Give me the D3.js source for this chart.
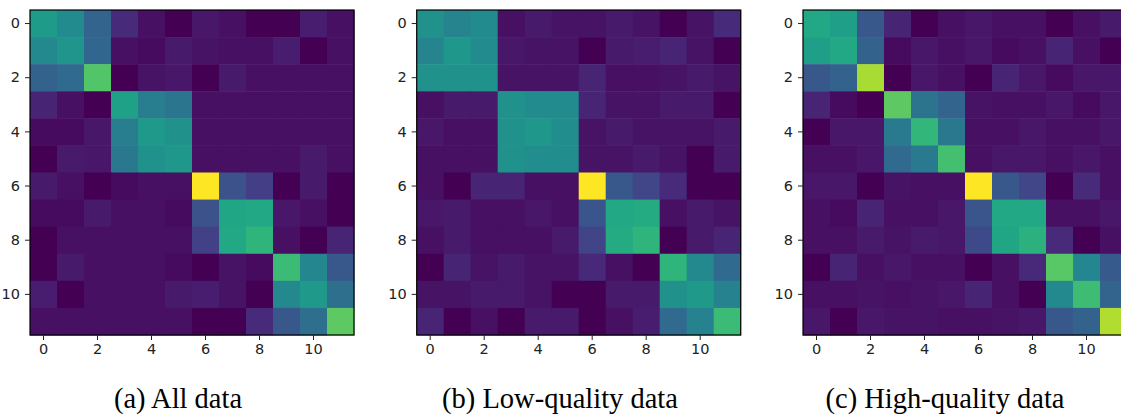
<!DOCTYPE html>
<html><head><meta charset="utf-8">
<script src="https://cdn.jsdelivr.net/npm/d3@7"></script>
<style>body{margin:0;background:#fff;} svg{display:block;}</style>
</head><body>
<svg id="chart" width="1121" height="416"></svg>
<script>
const indices = [0,1,2,3,4,5,6,7,8,9,10,11];
const tickValues = [0,2,4,6,8,10];
const captions = ["(a) All data", "(b) Low-quality data", "(c) High-quality data"];

const allData = [
 [0.55,0.48,0.32,0.12,0.04,0.00,0.06,0.04,0.00,0.00,0.08,0.04],
 [0.47,0.52,0.33,0.04,0.03,0.07,0.05,0.04,0.04,0.08,0.00,0.04],
 [0.31,0.34,0.73,0.00,0.05,0.06,0.00,0.07,0.04,0.04,0.04,0.04],
 [0.10,0.04,0.00,0.57,0.42,0.39,0.04,0.04,0.04,0.04,0.04,0.04],
 [0.03,0.03,0.06,0.42,0.54,0.50,0.04,0.04,0.04,0.04,0.04,0.04],
 [0.00,0.07,0.06,0.40,0.50,0.53,0.04,0.04,0.04,0.04,0.07,0.04],
 [0.07,0.04,0.00,0.03,0.04,0.04,1.00,0.25,0.18,0.00,0.07,0.00],
 [0.03,0.03,0.07,0.04,0.04,0.03,0.25,0.59,0.60,0.06,0.04,0.00],
 [0.00,0.04,0.04,0.04,0.04,0.04,0.19,0.60,0.65,0.04,0.00,0.10],
 [0.00,0.07,0.04,0.04,0.04,0.03,0.00,0.05,0.03,0.68,0.46,0.27],
 [0.08,0.00,0.04,0.04,0.04,0.07,0.08,0.05,0.00,0.47,0.54,0.36],
 [0.04,0.04,0.04,0.04,0.04,0.04,0.00,0.00,0.12,0.27,0.36,0.75]
];
const lowQuality = [
 [0.50,0.45,0.48,0.04,0.07,0.05,0.05,0.07,0.05,0.00,0.05,0.12],
 [0.45,0.53,0.48,0.06,0.05,0.05,0.00,0.07,0.08,0.10,0.05,0.00],
 [0.50,0.50,0.51,0.05,0.05,0.05,0.10,0.04,0.04,0.05,0.07,0.05],
 [0.04,0.07,0.07,0.50,0.48,0.48,0.10,0.05,0.05,0.07,0.07,0.00],
 [0.06,0.04,0.04,0.50,0.53,0.49,0.05,0.07,0.05,0.05,0.05,0.07],
 [0.04,0.04,0.04,0.50,0.49,0.49,0.05,0.05,0.07,0.05,0.00,0.07],
 [0.04,0.00,0.10,0.10,0.04,0.04,1.00,0.27,0.21,0.12,0.00,0.00],
 [0.06,0.07,0.04,0.04,0.06,0.04,0.26,0.60,0.61,0.04,0.07,0.05],
 [0.04,0.07,0.04,0.04,0.04,0.07,0.20,0.61,0.65,0.00,0.07,0.10],
 [0.00,0.10,0.05,0.07,0.05,0.05,0.11,0.04,0.00,0.65,0.47,0.34],
 [0.05,0.05,0.07,0.07,0.05,0.00,0.00,0.07,0.07,0.50,0.54,0.44],
 [0.10,0.00,0.04,0.00,0.07,0.07,0.00,0.04,0.08,0.34,0.44,0.68]
];
const highQuality = [
 [0.60,0.56,0.27,0.10,0.00,0.04,0.06,0.04,0.04,0.00,0.04,0.07],
 [0.56,0.60,0.31,0.03,0.06,0.04,0.06,0.03,0.04,0.10,0.04,0.00],
 [0.27,0.31,0.87,0.00,0.06,0.04,0.00,0.10,0.06,0.03,0.06,0.06],
 [0.10,0.03,0.00,0.75,0.38,0.32,0.05,0.04,0.04,0.06,0.03,0.06],
 [0.00,0.06,0.06,0.41,0.66,0.40,0.04,0.04,0.06,0.04,0.04,0.06],
 [0.04,0.04,0.06,0.34,0.41,0.70,0.04,0.06,0.06,0.04,0.06,0.04],
 [0.06,0.06,0.00,0.05,0.04,0.04,1.00,0.27,0.21,0.00,0.12,0.04],
 [0.04,0.03,0.10,0.04,0.04,0.06,0.26,0.60,0.60,0.04,0.04,0.06],
 [0.04,0.04,0.07,0.05,0.07,0.06,0.22,0.59,0.64,0.12,0.00,0.04],
 [0.00,0.10,0.04,0.06,0.04,0.04,0.00,0.04,0.11,0.74,0.46,0.28],
 [0.04,0.04,0.05,0.04,0.05,0.06,0.10,0.04,0.00,0.47,0.69,0.32],
 [0.06,0.00,0.06,0.05,0.05,0.04,0.04,0.05,0.06,0.27,0.31,0.88]
];
const matrices = [allData, lowQuality, highQuality];

const svg = d3.select("#chart");
const color = d3.scaleSequential(d3.interpolateViridis).domain([0,1]);
const panelX = [30, 416.7, 803];
const plotTop = 10, W = 324, H = 325;
const captionX = [178, 560, 945];

matrices.forEach((m, p) => {
  const x0 = panelX[p];
  const x = d3.scaleBand().domain(indices).range([x0, x0 + W]);
  const y = d3.scaleBand().domain(indices).range([plotTop, plotTop + H]);
  const g = svg.append("g");
  const cells = [];
  m.forEach((row, r) => row.forEach((v, c) => cells.push({r, c, v})));
  g.selectAll("rect.cell").data(cells).join("rect")
    .attr("class","cell")
    .attr("x", d => x(d.c)).attr("y", d => y(d.r))
    .attr("width", x.bandwidth() + 0.5).attr("height", y.bandwidth() + 0.5)
    .attr("fill", d => color(d.v));
  g.append("rect").attr("x", x0).attr("y", plotTop).attr("width", W).attr("height", H)
    .attr("fill","none").attr("stroke","#000").attr("stroke-width",1.2);

  const yAxis = d3.axisLeft(y).tickValues(tickValues).tickSize(5).tickPadding(5);
  const xAxis = d3.axisBottom(x).tickValues(tickValues).tickSize(5).tickPadding(4);
  const ga = g.append("g").attr("transform", `translate(${x0},0)`).call(yAxis);
  const gb = g.append("g").attr("transform", `translate(0,${plotTop + H})`).call(xAxis);
  [ga, gb].forEach(a => {
    a.select(".domain").remove();
    a.selectAll("line").attr("stroke","#222").attr("stroke-width",1);
    a.selectAll("text").attr("fill","#222").style("font-family","DejaVu Sans").style("font-size","14.5px");
  });

  svg.append("text").attr("x", captionX[p]).attr("y", 408)
    .attr("text-anchor","middle")
    .style("font-family","'Liberation Serif', 'Times New Roman', serif")
    .style("font-size","28.5px").attr("fill","#000")
    .text(captions[p]);
});
</script>
</body></html>
